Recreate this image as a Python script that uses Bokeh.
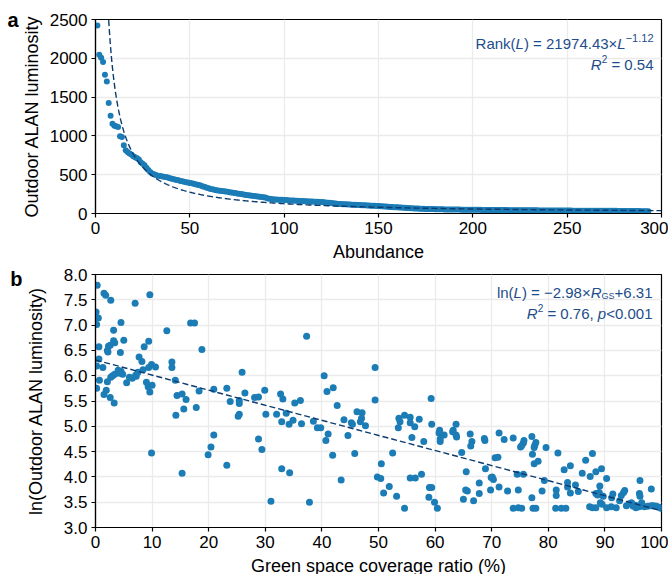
import numpy as np
from bokeh.plotting import figure
from bokeh.layouts import column
from bokeh.models import Label, FixedTicker, NumeralTickFormatter, Range1d, LinearAxis
from bokeh.embed import file_html
from bokeh.resources import INLINE

FONT = "Liberation Sans"
PT_COLOR = "#1b7cb6"
FIT_COLOR = "#0d3b70"
TXT_COLOR = "#1d4d8a"

# ---------------- Panel a: rank-size of outdoor ALAN luminosity ----------------
luminosity = [
    2423, 2045, 2007, 1951, 1788, 1702, 1424, 1261, 1158, 1132,
    1123, 1115, 995, 986, 879, 815, 793, 772, 760, 738,
    725, 712, 695, 660, 640, 622, 590, 560, 536, 515,
    505, 496, 488, 483, 479, 474, 470, 466, 457, 450,
    444, 439, 432, 427, 420, 414, 409, 403, 398, 394,
    389, 384, 377, 372, 366, 357, 349, 340, 331, 325,
    317, 312, 307, 301, 298, 294, 290, 286, 282, 279,
    275, 271, 267, 263, 258, 255, 251, 247, 242, 237,
    234, 231, 228, 225, 222, 219, 215, 212, 209, 205,
    196, 190, 186, 184, 182, 180, 178, 177, 176, 175,
    173, 171, 169, 168, 166, 165, 163, 162, 161, 160,
    158, 157, 156, 155, 154, 153, 151, 150, 149, 148,
    145, 142, 139, 137, 134, 131, 129, 126, 124, 122,
    120, 119, 118, 117, 116, 114, 113, 112, 110, 109,
    107, 106, 105, 104, 103, 101, 100, 99, 97, 96,
    94, 92, 90, 89, 87, 85, 84, 82, 80, 79,
    78, 76, 74, 73, 71, 70, 68, 67, 65, 64,
    63, 62, 61, 60, 59, 58, 58, 57, 57, 56,
    55, 55, 54, 54, 53, 53, 52, 52, 51, 51,
    50, 50, 50, 49, 49, 49, 48, 48, 48, 48,
    47, 47, 47, 47, 46, 46, 46, 46, 45, 45,
    45, 45, 45, 44, 44, 44, 44, 44, 43, 43,
    43, 43, 43, 42, 42, 42, 42, 42, 41, 41,
    41, 41, 41, 41, 40, 40, 40, 40, 40, 40,
    39, 39, 39, 39, 39, 39, 38, 38, 38, 38,
    38, 38, 37, 37, 37, 37, 37, 37, 36, 36,
    36, 36, 36, 36, 35, 35, 35, 35, 35, 35,
    35, 34, 34, 34, 34, 34, 33, 33, 33, 33,
    33, 32, 32, 32, 32, 31, 31, 31, 30, 30,
    30, 29, 29,
]
abundance = list(range(1, len(luminosity) + 1))
fit_a_coef = 21974.43
fit_a_exp = -1.12
a_xticks = [0, 50, 100, 150, 200, 250, 300]
a_yticks = [0, 500, 1000, 1500, 2000, 2500]

# ---------------- Panel b: ln(luminosity) vs green space coverage ----------------
gs_ratio = [
    0.3, 0.1, 0.5, 0.2, 1.5, 1.8, 2.7, 9.6, 7.0, 4.5, 16.8, 17.5, 3.2, 12.6, 5.0, 3.2, 3.4, 9.4,
    0.6, 2.3, 2.6, 2.1, 2.2, 4.4, 8.6, 18.8, 7.7, 8.2, 0.6, 0.2, 1.3, 9.9, 9.4, 10.6, 13.5, 13.5,
    8.4, 4.0, 4.5, 4.3, 3.4, 3.0, 2.7, 4.8, 7.5, 7.1, 6.0, 6.5, 7.2, 0.7, 2.1, 0.2, 5.5, 9.0,
    9.3, 10.0, 9.6, 14.1, 25.9, 1.9, 1.5, 2.6, 3.3, 18.3, 17.8, 20.9, 23.2, 23.8, 25.4, 25.4,
    26.4, 28.1, 28.8, 29.9, 14.4, 15.3, 16.0, 14.2, 15.6, 25.4, 25.2, 30.1, 32.0, 32.7, 33.1,
    33.7, 32.9, 34.2,
    20.9, 20.4, 19.9, 9.9, 23.2, 15.3, 28.8, 29.4, 32.9, 34.3, 31.0,
    37.3, 49.4, 40.4, 40.9, 42.0, 35.2, 36.2, 42.7, 49.4, 59.3, 46.2, 47.1, 47.0, 46.8, 47.7,
    43.9, 45.2, 45.4, 38.5, 36.4, 34.9, 39.2, 39.8, 53.6, 53.8, 54.6, 55.6, 55.6, 56.4, 57.2,
    59.4, 53.5, 60.8, 63.2, 63.7,
    40.7, 41.1, 41.9, 44.6, 45.8, 37.8, 43.4, 49.8, 50.4, 50.5, 52.5, 51.9, 50.9, 53.2, 54.6,
    55.6, 56.5, 57.6, 55.9, 58.0, 59.0, 59.4, 58.9, 59.9, 60.4, 60.7, 60.9, 60.9, 61.6, 63.1,
    63.7, 63.8, 64.7, 65.5, 65.4, 65.7, 65.0, 66.8, 66.2, 66.5, 66.3, 67.8, 67.8,
    68.7, 68.8, 71.3, 72.2, 73.8, 75.7, 75.6, 75.1, 75.3, 77.1, 77.8, 77.6, 77.5, 77.2, 77.5,
    78.2, 79.6, 81.7, 68.9, 70.6, 71.1, 69.9, 70.3, 70.1, 69.8, 71.3, 72.8, 74.7, 74.5, 75.6,
    77.1, 78.9, 79.3, 73.8, 74.7, 75.3, 77.3, 77.8, 81.3, 82.3, 83.1, 81.4, 81.4, 82.8, 83.9,
    83.4, 83.4, 83.9, 84.8, 85.3, 86.0, 86.6, 87.8, 87.4, 88.4, 89.4, 90.3, 89.1, 89.0, 88.4,
    88.7, 89.7, 89.2, 89.5, 91.4, 91.2, 87.3, 87.8, 88.4, 90.3, 91.1, 92.0, 92.9, 93.3, 93.5,
    92.6, 93.8, 94.3, 94.7, 95.0, 95.5, 95.4, 96.2, 96.1, 96.2, 96.5, 96.1, 97.0, 97.6, 98.2,
    98.6, 99.1, 99.6, 99.9, 98.2,
]
ln_luminosity = [
    7.79, 7.26, 7.14, 7.01, 7.63, 7.59, 7.49, 7.60, 7.43, 7.05, 7.04, 7.04, 6.90, 6.89, 6.70, 6.69, 6.65, 6.68,
    6.57, 6.58, 6.60, 6.50, 6.47, 6.46, 6.57, 6.52, 6.37, 6.28, 6.33, 6.19, 6.16, 6.22, 6.16, 6.17, 6.27, 6.16,
    6.12, 6.11, 6.09, 6.05, 6.03, 6.00, 5.97, 6.03, 6.07, 6.01, 5.97, 5.95, 5.99, 5.91, 5.88, 5.75, 5.86, 5.87,
    5.78, 5.81, 5.68, 5.91, 6.07, 5.71, 5.63, 5.57, 5.46, 5.70, 5.37, 5.73, 5.75, 5.49, 5.51, 5.45,
    5.66, 5.57, 5.58, 5.71, 5.61, 5.64, 5.53, 5.22, 5.34, 5.24, 5.20, 5.24, 5.24, 5.64, 5.54,
    5.26, 5.09, 5.04,
    4.83, 4.59, 4.44, 4.47, 4.23, 4.07, 4.75, 4.54, 4.16, 4.08, 3.52,
    6.78, 6.16, 6.00, 5.69, 5.76, 5.46, 5.51, 5.41, 5.52, 5.55, 5.29, 5.27, 5.16, 5.09, 5.01,
    5.13, 5.07, 5.04, 5.10, 5.05, 5.12, 4.97, 4.97, 5.16, 5.09, 5.22, 5.18, 5.07, 4.99, 5.14,
    5.04, 4.97, 4.92, 4.92, 5.04,
    4.72, 4.85, 4.43, 4.82, 4.46, 3.50, 3.94, 4.00, 3.97, 4.26, 4.47, 3.81, 3.68, 3.62, 3.38,
    3.98, 3.98, 4.05, 4.78, 4.70, 3.79, 3.79, 3.60, 3.50, 3.38, 4.87, 4.75, 4.70, 4.83, 4.89,
    4.83, 4.79, 4.48, 4.10, 3.74, 3.72, 3.56, 3.53, 4.85, 4.70, 4.61, 3.88, 3.67,
    4.76, 4.72, 4.87, 4.74, 4.77, 4.72, 4.67, 4.59, 4.62, 4.80, 4.68, 4.62, 4.58, 4.45, 4.26,
    4.31, 4.58, 4.47, 4.16, 4.38, 4.39, 3.99, 3.95, 4.00, 3.74, 3.80, 3.72, 3.74, 4.05, 4.05,
    3.59, 3.72, 3.93, 3.38, 3.39, 3.38, 3.38, 3.38, 3.38, 3.38, 3.38, 3.74, 3.63, 4.14, 4.22,
    3.89, 3.80, 3.68, 3.84, 3.71, 4.07, 4.33, 4.46, 4.01, 4.10, 4.16, 3.97, 3.82, 3.69, 3.67,
    3.64, 3.62, 3.49, 3.46, 3.66, 3.59, 3.41, 3.39, 3.39, 3.39, 3.41, 3.39, 3.63, 3.69, 3.73,
    3.53, 3.43, 3.47, 3.49, 3.42, 3.39, 3.44, 3.93, 3.67, 3.62, 3.49, 3.41, 3.41, 3.42, 3.43,
    3.43, 3.42, 3.40, 3.38, 3.76,
]
fit_b_slope = -2.98
fit_b_intercept = 6.31
b_xticks = [0, 10, 20, 30, 40, 50, 60, 70, 80, 90, 100]
b_yticks = [3.0, 3.5, 4.0, 4.5, 5.0, 5.5, 6.0, 6.5, 7.0, 7.5, 8.0]

# ---------------- helpers ----------------
ADV = {c: 0.556 for c in "0123456789"}
ADV.update({'.': 0.278, ',': 0.278, ' ': 0.278, '=': 0.584, '×': 0.584, '−': 0.584,
            '+': 0.584, '<': 0.584, '(': 0.333, ')': 0.333, 'R': 0.722, 'a': 0.556,
            'n': 0.556, 'k': 0.5, 'L': 0.556, 'l': 0.222, 'p': 0.556, 'G': 0.778, 'S': 0.667})


def seg_width(t, size):
    return sum(ADV.get(c, 0.556) for c in t) * size


def rich(p, xd, yd, segs, right, base):
    total = sum(seg_width(t, s) for t, s, _, _ in segs)
    cur = right - total
    for t, s, style, dy in segs:
        stripped = t.lstrip(' ')
        lead = (len(t) - len(stripped)) * 0.278 * s
        txt = stripped.rstrip(' ')
        if txt:
            p.add_layout(Label(x=xd, y=yd, x_offset=cur + lead, y_offset=base + dy, text=txt,
                               text_font=FONT, text_font_size=f"{s}px", text_font_style=style,
                               text_color=TXT_COLOR, text_align="left",
                               text_baseline="alphabetic"))
        cur += seg_width(t, s)


def style(p, label_standoff):
    p.background_fill_color = "white"
    p.border_fill_color = "white"
    p.outline_line_color = "black"
    p.outline_line_width = 1.2
    p.grid.grid_line_color = "#ebebeb"
    p.grid.grid_line_width = 1.3
    for ax in p.axis:
        ax.axis_line_color = "black"
        ax.axis_line_width = 1.2
        ax.major_tick_line_color = "black"
        ax.major_tick_line_width = 1.2
        ax.major_tick_out = 4
        ax.major_tick_in = 0
        ax.minor_tick_out = 0
        ax.minor_tick_in = 0
        ax.major_label_text_font = FONT
        ax.major_label_text_font_size = "17px"
        ax.major_label_text_color = "black"
        ax.major_label_standoff = 4
        ax.axis_label_text_font = FONT
        ax.axis_label_text_font_size = "18px"
        ax.axis_label_text_font_style = "normal"
        ax.axis_label_text_color = "black"
    p.xaxis.axis_label_standoff = 5
    p.yaxis.axis_label_standoff = label_standoff


def panel_letter(p, letter, tick):
    # an extra, line-less left axis whose single tick label is the panel letter
    ax = LinearAxis(ticker=FixedTicker(ticks=[tick]), major_label_overrides={tick: letter},
                    axis_line_color=None, major_tick_line_color=None,
                    minor_tick_line_color=None, major_tick_out=0, major_tick_in=0,
                    minor_tick_out=0, minor_tick_in=0,
                    major_label_text_font=FONT, major_label_text_font_size="20px",
                    major_label_text_font_style="bold", major_label_text_color="black",
                    major_label_standoff=0)
    p.add_layout(ax, "left")


# ---------------- Panel a ----------------
pa = figure(width=668, height=265, output_backend="svg", toolbar_location=None,
            x_range=Range1d(0, 300), y_range=Range1d(0, 2500),
            min_border_left=95, min_border_right=7, min_border_top=19, min_border_bottom=52,
            x_axis_label="Abundance", y_axis_label="Outdoor ALAN luminosity")
style(pa, 5)
pa.xaxis.ticker = FixedTicker(ticks=a_xticks)
pa.yaxis.ticker = FixedTicker(ticks=a_yticks)
pa.scatter(abundance, luminosity, size=6, color=PT_COLOR, line_color=None)
xa = np.linspace(1, 300, 800)
pa.line(xa, fit_a_coef * xa ** fit_a_exp, line_color=FIT_COLOR, line_width=1.4, line_dash="6 3")
rich(pa, 300, 2500, [("Rank(", 15, "normal", 0), ("L", 15, "italic", 0),
                     (") = 21974.43×", 15, "normal", 0), ("L", 15, "italic", 0),
                     ("−1.12", 11, "normal", 6)], -8, -24)
rich(pa, 300, 2500, [("R", 15, "italic", 0), ("2", 10, "normal", 6),
                     (" = 0.54", 15, "normal", 0)], -8, -45)
panel_letter(pa, "a", 2500)

# ---------------- Panel b ----------------
pb = figure(width=668, height=317, output_backend="svg", toolbar_location=None,
            x_range=Range1d(0, 100), y_range=Range1d(3.0, 8.0),
            min_border_left=94, min_border_right=6, min_border_top=9, min_border_bottom=55,
            x_axis_label="Green space coverage ratio (%)",
            y_axis_label="ln(Outdoor ALAN luminosity)")
style(pb, 15)
pb.xaxis.ticker = FixedTicker(ticks=b_xticks)
pb.yaxis.ticker = FixedTicker(ticks=b_yticks)
pb.yaxis.formatter = NumeralTickFormatter(format="0.0")
pb.scatter(gs_ratio, ln_luminosity, size=7, color=PT_COLOR, line_color=None)
xb = np.array([0.0, 100.0])
pb.line(xb, fit_b_intercept + fit_b_slope * xb / 100.0, line_color=FIT_COLOR, line_width=1.4,
        line_dash="6 3")
rich(pb, 100, 8.0, [("ln(", 15, "normal", 0), ("L", 15, "italic", 0),
                    (") = −2.98×", 15, "normal", 0), ("R", 15, "italic", 0),
                    ("GS", 9, "normal", -3), ("+6.31", 15, "normal", 0)], -9, -18)
rich(pb, 100, 8.0, [("R", 15, "italic", 0), ("2", 10, "normal", 6),
                    (" = 0.76, ", 15, "normal", 0), ("p", 15, "italic", 0),
                    ("<0.001", 15, "normal", 0)], -9, -39)
panel_letter(pb, "b", 8.0)

layout = column(pa, pb, spacing=0)
open("out.html", "w").write(file_html(layout, INLINE))
